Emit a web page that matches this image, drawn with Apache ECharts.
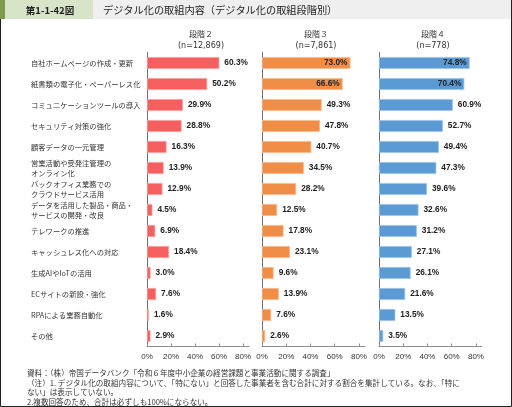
<!DOCTYPE html>
<html><head><meta charset="utf-8">
<script src="https://cdn.jsdelivr.net/npm/echarts@6/dist/echarts.min.js"></script>
<style>html,body{margin:0;padding:0;background:#fff}#c{width:512px;height:407px}</style>
</head><body><div id="c"></div>
<script>
var categories = [
  '自社ホームページの作成・更新',
  '紙書類の電子化・ペーパーレス化',
  'コミュニケーションツールの導入',
  'セキュリティ対策の強化',
  '顧客データの一元管理',
  '営業活動や受発注管理の\nオンライン化',
  'バックオフィス業務での\nクラウドサービス活用',
  'データを活用した製品・商品・\nサービスの開発・改良',
  'テレワークの推進',
  'キャッシュレス化への対応',
  '生成AIやIoTの活用',
  'ECサイトの新設・強化',
  'RPAによる業務自動化',
  'その他'
];
var stage2 = [60.3, 50.2, 29.9, 28.8, 16.3, 13.9, 12.9, 4.5, 6.9, 18.4, 3.0, 7.6, 1.6, 2.9];
var stage3 = [73.0, 66.6, 49.3, 47.8, 40.7, 34.5, 28.2, 12.5, 17.8, 23.1, 9.6, 13.9, 7.6, 2.6];
var stage4 = [74.8, 70.4, 60.9, 52.7, 49.4, 47.3, 39.6, 32.6, 31.2, 27.1, 26.1, 21.6, 13.5, 3.5];
var panelNames = ['段階２', '段階３', '段階４'];
var panelCounts = ['(n=12,869)', '(n=7,861)', '(n=778)'];
var xTicks = [0, 20, 40, 60, 80];
var headerLabel = '第1-1-42図';
var chartTitle = 'デジタル化の取組内容（デジタル化の取組段階別）';
var notes = [
  '資料：（株）帝国データバンク「令和６年度中小企業の経営課題と事業活動に関する調査」',
  '（注）1. デジタル化の取組内容について、「特にない」と回答した事業者を含む合計に対する割合を集計している。なお、「特に',
  'ない」は表示していない。',
  '2.複数回答のため、合計は必ずしも100%にならない。'
];

var seriesValues = [stage2, stage3, stage4];
var colors = ['#F55F5F', '#F08E48', '#5B9BD5'];
var borders = ['#F9A0A0', '#F6BB90', '#9DC3E6'];
var gridLefts = [147, 262, 379];
var gridWidth = 102;
var TXT = '#333333';
var CJK = '"Noto Sans CJK JP", "Noto Sans", sans-serif';
var NUM = '"Liberation Sans", Arial, sans-serif';
var WIDE = '"DejaVu Sans", Verdana, sans-serif';

var grids = [], xAxes = [], yAxes = [], series = [], titles = [];
for (var i = 0; i < 3; i++) {
  grids.push({left: gridLefts[i], top: 52.5, width: gridWidth + (i ? 1 : 0), height: 294, containLabel: false});
  xAxes.push({
    type: 'value', gridIndex: i, min: 0, max: 85, interval: 20,
    axisLine: {show: true, lineStyle: {color: '#8c8c8c', width: 1}},
    axisTick: {show: true, inside: true, length: 3, lineStyle: {color: '#8c8c8c'}},
    splitLine: {show: false},
    axisLabel: {
      showMaxLabel: false, margin: 6, color: TXT, fontSize: 8, fontFamily: NUM,
      formatter: function (v) { return xTicks.indexOf(v) >= 0 ? v + '%' : ''; }
    }
  });
  yAxes.push({
    type: 'category', gridIndex: i, data: categories, inverse: true,
    axisLine: {show: true, lineStyle: {color: '#6e6e6e', width: 1}},
    axisTick: {show: false},
    axisLabel: i === 0 ? {
      show: true, align: 'left', margin: 116, color: TXT, fontSize: 7.3,
      lineHeight: 9.5, fontFamily: CJK
    } : {show: false}
  });
  (function (idx) {
    series.push({
      type: 'bar', xAxisIndex: idx, yAxisIndex: idx, barWidth: 12,
      itemStyle: {color: colors[idx], borderColor: borders[idx], borderWidth: 0.8},
      data: seriesValues[idx].map(function (v) {
        var inside = v > 65;
        return {
          value: v,
          label: {position: inside ? 'insideRight' : 'right', distance: inside ? 3 : 5}
        };
      }),
      label: {
        show: true, color: '#222', fontSize: 8.3, fontWeight: 'bold', fontFamily: NUM,
        formatter: function (p) { return p.value.toFixed(1) + '%'; }
      },
      animation: false
    });
  })(i);
  titles.push({
    text: panelNames[i], subtext: panelCounts[i],
    left: gridLefts[i] + gridWidth / 2 + 3, top: 30, textAlign: 'center', itemGap: 4,
    padding: 0,
    textStyle: {fontSize: 8, fontWeight: 'normal', color: TXT, fontFamily: CJK},
    subtextStyle: {fontSize: 8, color: TXT, fontFamily: WIDE}
  });
}

var graphics = [
  {type: 'rect', shape: {x: 0, y: 0, width: 512, height: 19}, style: {fill: '#efefef'}},
  {type: 'rect', shape: {x: 0, y: 0, width: 93, height: 19}, style: {fill: '#d8e4c8'}},
  {type: 'rect', shape: {x: 0, y: 0, width: 5, height: 19}, style: {fill: '#7b9a4c'}},
  {type: 'text', x: 50, y: 10, style: {text: headerLabel, fontSize: 9.5, fontWeight: 'bold', fill: '#222', textAlign: 'center', textVerticalAlign: 'middle', fontFamily: CJK}},
  {type: 'text', x: 103, y: 10, style: {text: chartTitle, fontSize: 10.2, fill: '#222', textAlign: 'left', textVerticalAlign: 'middle', fontFamily: CJK}},
  {type: 'polyline', shape: {points: [[0.5, 19], [0.5, 406.5], [511.5, 406.5], [511.5, 0]]}, style: {stroke: '#222', lineWidth: 1, fill: null}}
];
var noteY = [373, 383, 392.5, 402];
notes.forEach(function (t, k) {
  graphics.push({type: 'text', x: 27, y: noteY[k], style: {text: t, fontSize: 7.6, fill: TXT, textAlign: 'left', textVerticalAlign: 'middle', fontFamily: CJK}});
});

var chart = echarts.init(document.getElementById('c'), null, {renderer: 'canvas'});
chart.setOption({
  animation: false,
  backgroundColor: '#ffffff',
  title: titles,
  grid: grids,
  xAxis: xAxes,
  yAxis: yAxes,
  series: series,
  graphic: graphics
});
</script></body></html>
